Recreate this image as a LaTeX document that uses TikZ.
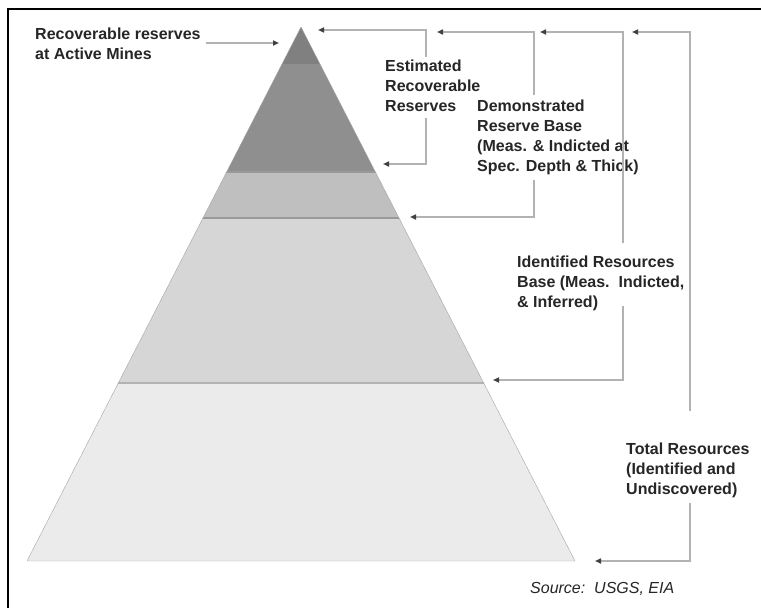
\documentclass[tikz,border=0pt]{standalone}
\usepackage{fontspec}
\setmainfont{Liberation Sans}
\usetikzlibrary{arrows.meta}

\begin{document}
\begin{tikzpicture}[x=1pt,y=-1pt,
  lbl/.style={anchor=north west,inner sep=0pt,align=left,text=black!85,font=\bfseries\fontsize{16}{20}\selectfont},
  link/.style={draw=black!30,line width=2pt,-{Triangle[length=6pt,width=5pt,color=black!75]}}]
\useasboundingbox (0,0) rectangle (761,608);
\fill[white] (0,0) rectangle (761,608);
\coordinate (apex) at (301,27);
\coordinate (bl) at (27,561);
\coordinate (br) at (575,561);

\begin{scope}
\clip (apex) -- (bl) -- (br) -- cycle;
\fill[black!50] (0,0) rectangle (761,64);
\fill[black!44] (0,64) rectangle (761,172);
\fill[black!25] (0,172) rectangle (761,218);
\fill[black!16] (0,218) rectangle (761,383);
\fill[black!8] (0,383) rectangle (761,561);
\draw[black!40,line width=1.5pt] (0,172) -- (761,172);
\draw[black!40,line width=1.5pt] (0,218) -- (761,218);
\draw[black!30,line width=1.5pt] (0,383) -- (761,383);
\end{scope}
\draw[black!35] (apex) -- (bl) -- (br) -- cycle;

\draw[line width=2.5pt] (8,608) -- (8,9) -- (761,9);

\node[lbl] (mines) at (35,28) {Recoverable reserves\\at Active Mines};
\node[lbl] (est) at (385,60) {Estimated\\Recoverable\\Reserves};
\node[lbl] (demo) at (477,100) {Demonstrated\\Reserve Base\\(Meas. \& Indicted at\\Spec. Depth \& Thick)};
\node[lbl] (ident) at (517,256) {Identified Resources\\Base (Meas.\ \ Indicted,\\\& Inferred)};
\node[lbl] (total) at (626,443) {Total Resources\\(Identified and\\Undiscovered)};
\node[anchor=north west,inner sep=0pt,text=black!85,font=\itshape\fontsize{16}{20}\selectfont] (src) at (530,582) {Source:\ \ USGS, EIA};

\coordinate (minesTip) at (279,43);
\coordinate (estTop) at (318,30);
\coordinate (estBot) at (383,164);
\coordinate (demoTop) at (437,32);
\coordinate (demoBot) at (410,217);
\coordinate (identTop) at (540,32);
\coordinate (identBot) at (493,380);
\coordinate (totalTop) at (632,32);
\coordinate (totalBot) at (595,561);

\draw[link] ([xshift=5pt,yshift=-15pt]mines.north east) -- (minesTip);
\draw[link] ([xshift=41pt,yshift=3pt]est.north west) |- (estTop);
\draw[link] ([xshift=41pt,yshift=-6pt]est.south west) |- (estBot);
\draw[link] ([xshift=57pt,yshift=5pt]demo.north west) |- (demoTop);
\draw[link] ([xshift=57pt,yshift=-5pt]demo.south west) |- (demoBot);
\draw[link] ([xshift=106pt,yshift=13pt]ident.north west) |- (identTop);
\draw[link] ([xshift=106pt,yshift=5pt]ident.south west) |- (identBot);
\draw[link] ([xshift=64pt,yshift=32pt]total.north west) |- (totalTop);
\draw[link] ([xshift=64pt,yshift=-5pt]total.south west) |- (totalBot);
\end{tikzpicture}
\end{document}
